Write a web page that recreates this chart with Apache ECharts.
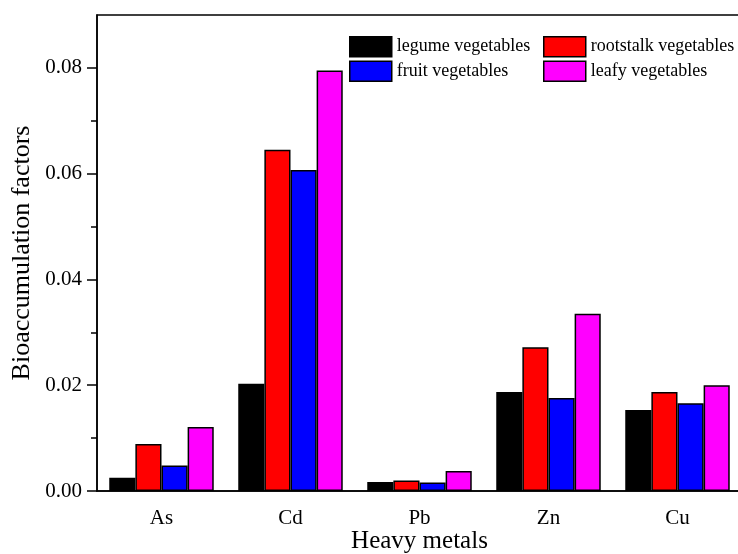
<!DOCTYPE html>
<html>
<head>
<meta charset="utf-8">
<script src="https://cdn.jsdelivr.net/npm/echarts@6/dist/echarts.min.js"></script>
<style>html,body{margin:0;padding:0;background:#fff}#c{width:738px;height:554px}</style>
</head>
<body>
<div id="c"></div>
<script>
const categories = ['As', 'Cd', 'Pb', 'Zn', 'Cu'];
const legume = [0.0025, 0.0203, 0.0017, 0.0187, 0.0153];
const rootstalk = [0.0089, 0.0645, 0.0020, 0.0272, 0.0187];
const fruit = [0.0048, 0.0607, 0.0016, 0.0176, 0.0166];
const leafy = [0.0121, 0.0795, 0.0038, 0.0335, 0.0200];
const yMajorTicks = [0, 0.02, 0.04, 0.06, 0.08];
const yMinorTicks = [0.01, 0.03, 0.05, 0.07];

const font = 'Liberation Serif';
const chart = echarts.init(document.getElementById('c'), null, {renderer: 'canvas'});
function bar(name, data, color) {
  return {
    name: name, type: 'bar', data: data, xAxisIndex: 0, yAxisIndex: 0,
    barGap: '0%', barCategoryGap: '19%',
    itemStyle: {color: color, borderColor: '#000', borderWidth: 1.5},
    emphasis: {disabled: true}
  };
}
const legendCommon = {
  orient: 'vertical', itemWidth: 42, itemHeight: 20, itemGap: 3,
  icon: 'rect',
  textStyle: {fontFamily: font, fontSize: 18, color: '#000'},
  itemStyle: {borderColor: '#000', borderWidth: 1.5},
  selectedMode: false
};
chart.setOption({
  animation: false,
  backgroundColor: '#fff',
  grid: {left: 97, top: 15, bottom: 63, right: -4, outerBoundsMode: 'none', containLabel: false,
    show: true, borderColor: '#000', borderWidth: 1.5, backgroundColor: 'transparent'},
  legend: [
    Object.assign({}, legendCommon, {left: 344, top: 31, data: ['legume vegetables', 'fruit vegetables']}),
    Object.assign({}, legendCommon, {left: 538, top: 31, data: ['rootstalk vegetables', 'leafy vegetables']})
  ],
  xAxis: [
    {
      type: 'category', data: categories, position: 'bottom',
      name: 'Heavy metals', nameLocation: 'middle', nameGap: 38, nameMoveOverlap: false,
      nameTextStyle: {fontFamily: font, fontSize: 25, color: '#000'},
      axisLine: {lineStyle: {color: '#000', width: 1.5}},
      axisTick: {alignWithLabel: true, length: 9, lineStyle: {color: '#000', width: 1.5}},
      axisLabel: {fontFamily: font, fontSize: 21, color: '#000', margin: 17},
      splitLine: {show: false}
    },
    {
      type: 'category', data: categories, position: 'bottom', offset: 0,
      axisLine: {show: false},
      axisTick: {length: 5, lineStyle: {color: '#000', width: 1.5}},
      axisLabel: {show: false},
      splitLine: {show: false}
    }
  ],
  yAxis: [
    {
      type: 'value', min: 0, max: 0.09,
      name: 'Bioaccumulation factors', nameLocation: 'middle', nameGap: 62, nameMoveOverlap: false,
      nameTextStyle: {fontFamily: font, fontSize: 26, color: '#000'},
      axisLine: {show: true, lineStyle: {color: '#000', width: 1.5}},
      axisTick: {show: true, length: 10, customValues: yMajorTicks, lineStyle: {color: '#000', width: 1.5}},
      axisLabel: {fontFamily: font, fontSize: 21, color: '#000', margin: 15, customValues: yMajorTicks,
        formatter: v => v.toFixed(2)},
      splitLine: {show: false}
    },
    {
      type: 'value', min: 0, max: 0.09, position: 'left',
      axisLine: {show: false},
      axisTick: {show: true, length: 6, customValues: yMinorTicks, lineStyle: {color: '#000', width: 1.5}},
      axisLabel: {show: false},
      splitLine: {show: false}
    }
  ],
  series: [
    bar('legume vegetables', legume, '#000000'),
    bar('rootstalk vegetables', rootstalk, '#ff0000'),
    bar('fruit vegetables', fruit, '#0000ff'),
    bar('leafy vegetables', leafy, '#ff00ff')
  ]
});
</script>
</body>
</html>
